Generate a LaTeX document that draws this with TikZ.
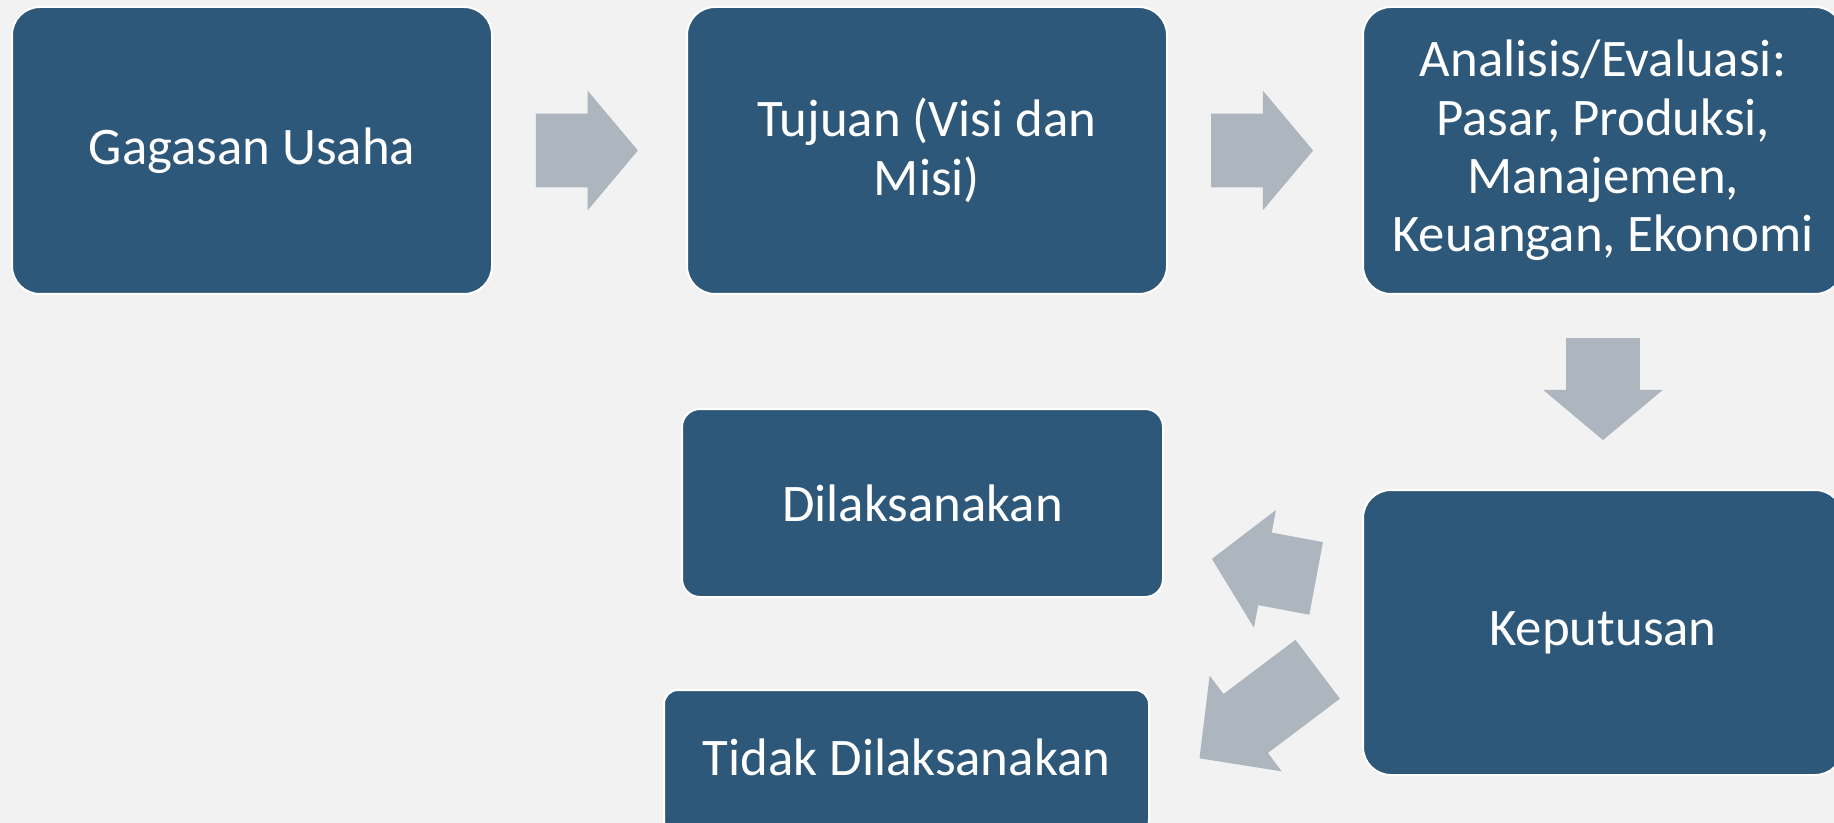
\documentclass[tikz,border=0pt]{standalone}
\usepackage{fontspec}
\setmainfont{Carlito}
\usetikzlibrary{shapes.arrows, calc, positioning}

\definecolor{boxblue}{RGB}{46,88,121}
\definecolor{arrowgray}{RGB}{173,181,190}
\definecolor{slidebg}{RGB}{242,242,242}

\begin{document}
\begin{tikzpicture}[
    x=0.5pt, y=-0.5pt,
    stagebox/.style={
        draw=white, line width=1pt, fill=boxblue, rounded corners=14pt,
        text=white, align=center, inner sep=0pt,
        minimum width=240pt, minimum height=143.5pt,
        font=\fontsize{26.4}{29.2}\selectfont
    },
    blockarrow/.style={
        single arrow, fill=arrowgray, draw=none, anchor=tail,
        inner xsep=0pt, inner ysep=18.25pt,
        single arrow head extend=11.5pt, single arrow tip angle=100,
        minimum height=51pt
    }
]

% Background
\fill[slidebg] (0,0) rectangle (1834,823);
\useasboundingbox (0,0) rectangle (1834,823);

% -------------------------
% Stages
% -------------------------

% 1. Top row
\node[stagebox] (gagasan) at (252,150.5) {Gagasan Usaha};
\node[stagebox] (tujuan) at (927,150.5) {Tujuan (Visi dan\\Misi)};
\node[stagebox] (analisis) at (1603,150.5) {Analisis/Evaluasi:\\Pasar, Produksi,\\Manajemen,\\Keuangan, Ekonomi};

% 2. Decision (Right)
\node[stagebox, minimum height=142.5pt] (keputusan) at (1603,632.5) {Keputusan};

% 3. Outcomes (Left)
\node[stagebox, minimum width=240.5pt, minimum height=94pt, rounded corners=9pt] (dilaks) at (922.5,503) {Dilaksanakan};
\node[stagebox, minimum width=242.5pt, minimum height=72pt, rounded corners=7pt, text depth=5pt] (tidak) at (906.5,762) {Tidak Dilaksanakan};

% -------------------------
% Block Arrows
% -------------------------

\node[blockarrow] (a1) at ($(gagasan.east)!0.22!(tujuan.west)$) {};
\node[blockarrow] (a2) at ($(tujuan.east)!0.22!(analisis.west)$) {};
\node[blockarrow, rotate=-90] (a3) at ($(analisis.south)!0.22!(keputusan.north)$) {};

% Keputusan -> Dilaksanakan / Tidak Dilaksanakan
\node[blockarrow, rotate=169.4, minimum height=53pt, single arrow tip angle=96] (a4) at ($(keputusan.west)+(-45.5,-54)$) {};
\node[blockarrow, rotate=217, minimum height=74pt, single arrow tip angle=92] (a5) at ($(keputusan.west)+(-44,36.5)$) {};

\end{tikzpicture}
\end{document}
